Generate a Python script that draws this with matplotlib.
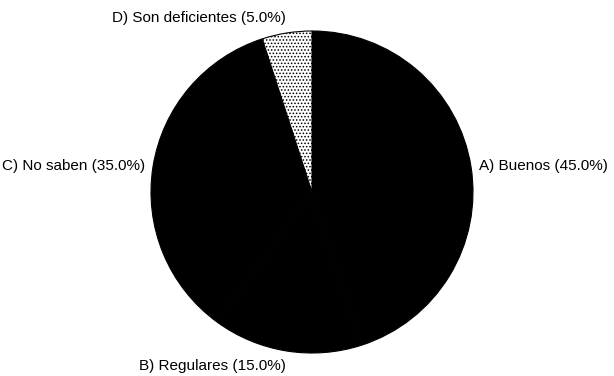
import matplotlib.pyplot as plt

plt.rcParams['font.family'] = ['Liberation Sans', 'DejaVu Sans']
plt.rcParams['hatch.linewidth'] = 0.7

labels = ['A) Buenos (45.0%)', 'B) Regulares (15.0%)',
          'C) No saben (35.0%)', 'D) Son deficientes (5.0%)']
shares = [45.0, 15.0, 35.0, 5.0]
colors = ['black', 'black', 'black', 'white']

fig = plt.figure(figsize=(6.14, 3.76), dpi=100)
# axes fill the whole figure, data units are pixels
ax = fig.add_axes([0, 0, 1, 1])

wedges, texts = ax.pie(shares, labels=labels, colors=colors,
                       startangle=90, counterclock=False,
                       radius=161, center=(312, 184),
                       labeldistance=1.05,
                       wedgeprops=dict(edgecolor='black', linewidth=0.8),
                       textprops=dict(fontsize=11, color='black'))
wedges[3].set_hatch('.....')

# pie picks alignment from the absolute x, so set it by hand
texts[0].set_horizontalalignment('left')
for t in texts[1:]:
    t.set_horizontalalignment('right')
texts[1].set_verticalalignment('top')
texts[3].set_verticalalignment('bottom')

ax.set_xlim(0, 614)
ax.set_ylim(0, 376)
ax.set_aspect('equal')
ax.axis('off')

fig.savefig('out.png', dpi=100, facecolor='white')
